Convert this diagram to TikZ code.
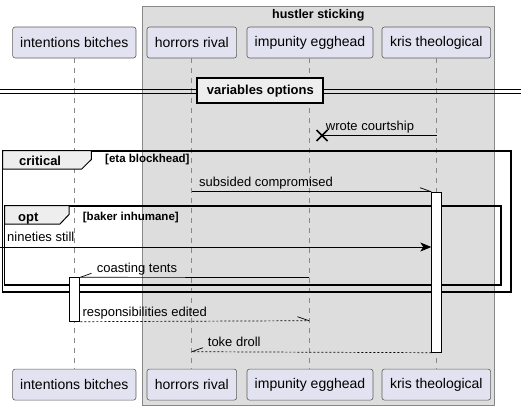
\documentclass[tikz,border=0pt]{standalone}
\usepackage{fontspec}
\setmainfont{Liberation Sans}
\usetikzlibrary{arrows.meta}
\definecolor{partfill}{HTML}{E2E2F0}
\definecolor{partline}{HTML}{181818}
\definecolor{grpfill}{HTML}{DDDDDD}
\definecolor{grpline}{HTML}{888888}
\definecolor{tabfill}{HTML}{EEEEEE}
\tikzset{
  part/.style={draw=partline!70, fill=partfill, rounded corners=2.5pt, line width=0.6pt,
    minimum width=#1, minimum height=31pt, inner sep=0pt, font=\fontsize{14}{16}\selectfont},
  lifeline/.style={draw=grpline, dash pattern=on 5pt off 5pt, line width=0.6pt},
  msg/.style={draw=black, line width=0.7pt},
  rmsg/.style={draw=black, line width=0.7pt, dash pattern=on 2pt off 2pt},
  msglabel/.style={anchor=base west, inner sep=0pt, font=\fontsize{13}{15}\selectfont},
  framebox/.style={draw=black, line width=1.8pt},
  tabshape/.style={draw=black, fill=tabfill, line width=1pt},
  tablabel/.style={anchor=base west, inner sep=0pt, font=\fontsize{13}{15}\selectfont\bfseries},
  guard/.style={anchor=base west, inner sep=0pt, font=\fontsize{11.5}{13}\selectfont\bfseries},
  actbox/.style={draw=black, fill=white, line width=1pt},
}
\begin{document}
\begin{tikzpicture}[x=1pt,y=-1pt]
\useasboundingbox (0,0) rectangle (526,410);
% group
\draw[draw=grpline, fill=grpfill, line width=0.8pt] (142,6) rectangle (494.3,405);
\node[anchor=base, inner sep=0pt, font=\fontsize{12.5}{14}\selectfont\bfseries] (grptitle) at (318.3,18) {hustler sticking};
% participants
\node[part=123.3pt] (ibT) at (74.3,42.5) {intentions bitches};
\node[part=89.7pt] (hrT) at (191.8,42.5) {horrors rival};
\node[part=126pt] (ieT) at (310,42.5) {impunity egghead};
\node[part=108.7pt] (ktT) at (436.3,42.5) {kris theological};
\node[part=123.3pt] (ibB) at (74.3,384.6) {intentions bitches};
\node[part=89.7pt] (hrB) at (191.8,384.6) {horrors rival};
\node[part=126pt] (ieB) at (310,384.6) {impunity egghead};
\node[part=108.7pt] (ktB) at (436.3,384.6) {kris theological};
% lifelines
\draw[lifeline] (74.3,58) -- (74.3,369.1);
\draw[lifeline] (191.7,58) -- (191.7,369.1);
\draw[lifeline] (309,58) -- (309,369.1);
\draw[lifeline] (436.5,58) -- (436.5,369.1);
% divider
\coordinate (dvL1) at (0,89);
\coordinate (dvR1) at (521,89);
\coordinate (dvL2) at (0,93.5);
\coordinate (dvR2) at (521,93.5);
\draw[line width=0.8pt] (dvL1) -- (dvR1);
\draw[line width=0.8pt] (dvL2) -- (dvR2);
\node[draw=black, fill=tabfill, line width=1.8pt, minimum width=126pt, minimum height=25pt, inner sep=0pt,
  font=\fontsize{13}{15}\selectfont\bfseries] (divider) at (260.3,90.8) {variables options};
% wrote courtship
\coordinate (wcS) at (436.5,135);
\coordinate (wcE) at (322,135);
\draw[msg] (wcS) -- (wcE);
\draw[line width=1.6pt] (316.5,130) -- (327.5,141) (316.5,141) -- (327.5,130);
\node[msglabel] (wcL) at (325.7,130.5) {wrote courtship};
% frames
\draw[framebox] (2.5,150.7) rectangle (510.7,292.3);
\draw[tabshape] (2.5,150.7) -- (91.3,150.7) -- (91.3,159.5) -- (81.7,169) -- (2.5,169) -- cycle;
\node[tablabel] (crL) at (19,165) {critical};
\node[guard] (crG) at (105,162.7) {[eta blockhead]};
\draw[framebox] (4.5,205.7) rectangle (500.7,285.3);
\draw[tabshape] (4.5,205.7) -- (69,205.7) -- (69,214.5) -- (60,224) -- (4.5,224) -- cycle;
\node[tablabel] (opL) at (18,221.5) {opt};
\node[guard] (opG) at (82.7,220) {[baker inhumane]};
% activations
\node[actbox, minimum width=10pt, minimum height=160pt, inner sep=0pt, anchor=north west] (actK) at (431.3,191.7) {};
\node[actbox, minimum width=10pt, minimum height=43.4pt, inner sep=0pt, anchor=north west] (actI) at (69.3,277.3) {};
% subsided compromised
\coordinate (scS) at (191.7,191.7);
\draw[msg] (scS) -- (actK.north west);
\draw[msg] (actK.north west) -- ++(-11.3,-4);
\node[msglabel] (scL) at (199,186.7) {subsided compromised};
% nineties still
\coordinate (nsS) at (0,247);
\draw[msg, -{Stealth[length=11pt,width=9pt,inset=3pt]}] (nsS) -- (actK.west |- nsS);
\node[msglabel] (nsL) at (7,241.7) {nineties still};
% coasting tents
\coordinate (ctS) at (309,277.5);
\draw[msg] (ctS) -- (actI.north east);
\draw[msg] (actI.north east) -- ++(11.2,-4);
\node[msglabel] (ctL) at (96.7,272.3) {coasting tents};
% responsibilities edited
\coordinate (reE) at (309,320.7);
\draw[rmsg] (actI.south east) -- (reE);
\draw[msg] (reE) -- ++(-11.5,-4);
\node[msglabel] (reL) at (82.3,316.5) {responsibilities edited};
% toke droll
\coordinate (tdE) at (191.7,351.7);
\draw[rmsg] (actK.south west) -- (tdE);
\draw[msg] (tdE) -- ++(11.3,-4);
\node[msglabel] (tdL) at (207.7,346) {toke droll};
\end{tikzpicture}
\end{document}
